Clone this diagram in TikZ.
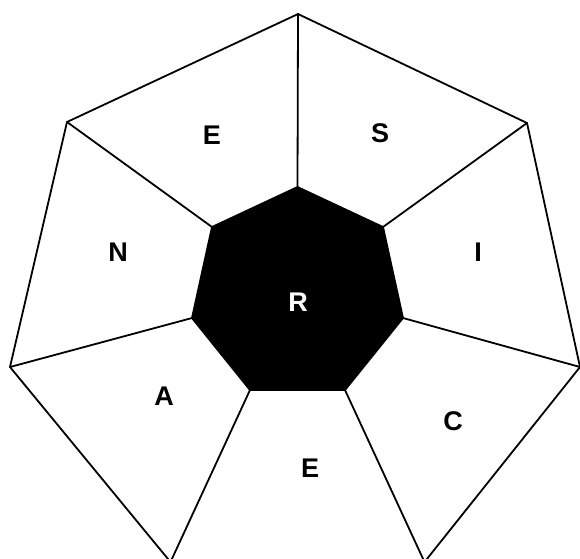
\documentclass[tikz,border=0pt]{standalone}
\usepackage{fontspec}
\setmainfont{Liberation Sans}
\begin{document}
\begin{tikzpicture}[x=1pt,y=-1pt,
  edge/.style={draw=black,line width=1.8pt,line join=miter},
  lbl/.style={font=\fontsize{27}{27}\selectfont\bfseries,inner sep=0pt,anchor=center}]
\useasboundingbox (0,0) rectangle (580,558);
\clip (0,0) rectangle (580,558);
% outer vertices
\coordinate (o1) at (298,14);
\coordinate (o2) at (527,123);
\coordinate (o3) at (580,367);
\coordinate (o4) at (424.5,562);
\coordinate (o5) at (170.5,562);
\coordinate (o6) at (10,367);
\coordinate (o7) at (67,122);
% inner vertices
\coordinate (i1) at (297.5,187);
\coordinate (i2) at (383,227);
\coordinate (i3) at (403,318);
\coordinate (i4) at (345,390);
\coordinate (i5) at (250,390);
\coordinate (i6) at (192,318);
\coordinate (i7) at (212,227);
\draw[edge] (o1) -- (o2) -- (o3) -- (o4) -- (o5) -- (o6) -- (o7) -- cycle;
\foreach \k in {1,...,7} { \draw[edge] (i\k) -- (o\k); }
\filldraw[edge,fill=black] (i1) -- (i2) -- (i3) -- (i4) -- (i5) -- (i6) -- (i7) -- cycle;
\node[lbl] (lE1) at (212,135) {E};
\node[lbl] (lS) at (380,133) {S};
\node[lbl] (lN) at (118,252) {N};
\node[lbl] (lI) at (478,252) {I};
\node[lbl,text=white] (lR) at (298,302) {R};
\node[lbl] (lA) at (164,396) {A};
\node[lbl] (lC) at (453,421) {C};
\node[lbl] (lE2) at (310,468) {E};
\end{tikzpicture}
\end{document}
